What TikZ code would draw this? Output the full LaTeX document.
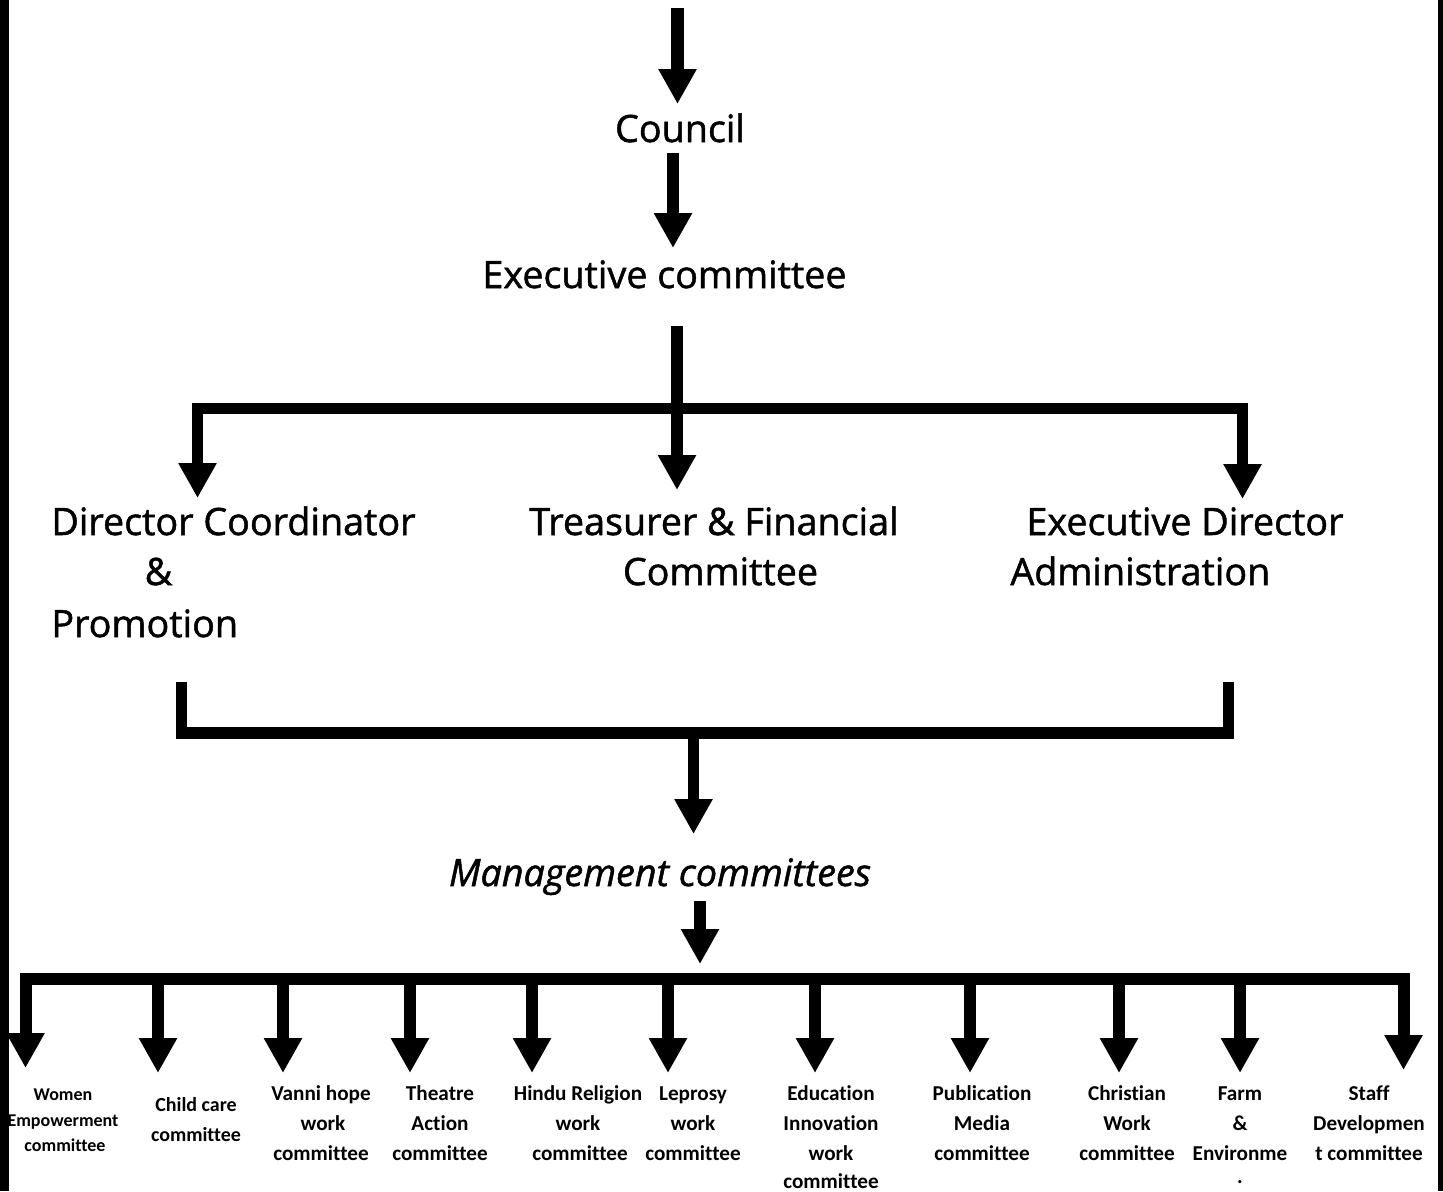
\documentclass[tikz,border=0pt]{standalone}
\usepackage{fontspec}
\setmainfont{Open Sans}[FakeBold=1.3]
\newfontfamily\calfont{Carlito}[Ligatures=NoCommon]
\usetikzlibrary{arrows.meta}
\begin{document}
\begin{tikzpicture}[x=0.5pt,y=-0.5pt,
  >={Triangle[length=17.5pt,width=18pt]},
  big/.style={font=\fontsize{18.85}{24}\selectfont, inner sep=0pt, anchor=base},
  bigl/.style={big, anchor=base west},
  bigi/.style={big, font=\fontsize{18.85}{24}\selectfont\itshape},
  lab/.style={font=\calfont\bfseries\fontsize{10.6}{14}\selectfont, inner sep=0pt, anchor=base},
  labw/.style={lab, font=\calfont\bfseries\fontsize{9}{12}\selectfont},
  labc/.style={lab, font=\calfont\bfseries\fontsize{10}{13}\selectfont},
  arr/.style={line width=6.25pt, ->},
  arrs/.style={line width=5.75pt, ->},
  bar/.style={line width=5.75pt, line join=miter, line cap=butt}
]
\useasboundingbox (0,0) rectangle (1443,1191);
\fill[white] (0,0) rectangle (1443,1191);

% ---------- top texts ----------
\node[big] (council) at (680,142) {Council};
\node[big] (exec) at (664.5,288) {Executive committee};

\node[bigl] (dc1) at (51,535) {Director Coordinator};
\node[big]  (dc2) at (158.5,585) {\&};
\node[bigl] (dc3) at (51,637) {Promotion};

\node[big] (tf1) at (714,535) {Treasurer \& Financial};
\node[big] (tf2) at (720.5,585) {Committee};

\node[bigl] (ed1) at (1026,535) {Executive Director};
\node[bigl] (ed2) at (1010,585) {Administration};

\node[bigi] (mgmt) at (660,886) {Management committees};

% ---------- connector coordinates ----------
\coordinate (a0) at (677.5,8);
\coordinate (a1) at (677.5,104);
\coordinate (b0) at (673,153);
\coordinate (b1) at (673,248);
\coordinate (c0) at (677,326);
\coordinate (c1) at (677,490);
\coordinate (jL) at (197.5,408.5);
\coordinate (jR) at (1242.5,408.5);
\coordinate (tL) at (197.5,498);
\coordinate (tR) at (1242.5,499);
\coordinate (kL0) at (181.5,682);
\coordinate (kL) at (181.5,733);
\coordinate (kR) at (1228.5,733);
\coordinate (kR0) at (1228.5,682);
\coordinate (m0) at (693.5,733);
\coordinate (m1) at (693.5,834);
\coordinate (n0) at (700,901);
\coordinate (n1) at (700,964);
\coordinate (bL) at (25.5,979);
\coordinate (bR) at (1403.5,979);
\coordinate (bLt) at (25.5,1068);
\coordinate (bRt) at (1403.5,1070);

% ---------- top arrows ----------
\draw[arr] (a0) -- (a1);
\draw[arr] (b0) -- (b1);
\draw[arrs] (c0) -- (c1);
\draw[bar, <->] (tL) -- (jL) -- (jR) -- (tR);

% ---------- lower bracket ----------
\draw[bar] (kL0) -- (kL) -- (kR) -- (kR0);
\draw[arrs] (m0) -- (m1);
\draw[line width=6pt, ->] (n0) -- (n1);

% ---------- bottom bar ----------
\draw[bar, line width=6pt, <->] (bLt) -- (bL) -- (bR) -- (bRt);
\foreach \x [count=\i] in {158,283,410,532,668,815,970,1119,1240}{
  \coordinate (s\i) at (\x,979);
  \coordinate (e\i) at (\x,1073);
  \draw[arrs] (s\i) -- (e\i);
}

% ---------- bottom labels ----------
\node[labw] (w1) at (63,1100) {Women};
\node[labw] (w2) at (63,1126) {Empowerment};
\node[labw] (w3) at (65,1151) {committee};

\node[labc] (cc1) at (196,1111) {Child care};
\node[labc] (cc2) at (196,1141) {committee};

\node[lab] (vh1) at (321,1100) {Vanni hope};
\node[lab] (vh2) at (323,1130) {work};
\node[lab] (vh3) at (321,1160) {committee};

\node[lab] (th1) at (440,1100) {Theatre};
\node[lab] (th2) at (440,1130) {Action};
\node[lab] (th3) at (440,1160) {committee};

\node[lab] (hr1) at (578,1100) {Hindu Religion};
\node[lab] (hr2) at (578,1130) {work};
\node[lab] (hr3) at (580,1160) {committee};

\node[lab] (lp1) at (693,1100) {Leprosy};
\node[lab] (lp2) at (693,1130) {work};
\node[lab] (lp3) at (693,1160) {committee};

\node[lab] (ed1b) at (831,1100) {Education};
\node[lab] (ed2b) at (831,1130) {Innovation};
\node[lab] (ed3b) at (831,1160) {work};
\node[lab] (ed4b) at (831,1188) {committee};

\node[lab] (pm1) at (982,1100) {Publication};
\node[lab] (pm2) at (982,1130) {Media};
\node[lab] (pm3) at (982,1160) {committee};

\node[lab] (cw1) at (1127,1100) {Christian};
\node[lab] (cw2) at (1127,1130) {Work};
\node[lab] (cw3) at (1127,1160) {committee};

\node[lab] (fe1) at (1240,1100) {Farm};
\node[lab] (fe2) at (1240,1130) {\&};
\node[lab] (fe3) at (1240,1160) {Environme};
\node[lab] (fe4) at (1240,1183) {.};

\node[lab] (sd1) at (1369,1100) {Staff};
\node[lab] (sd2) at (1369,1130) {Developmen};
\node[lab] (sd3) at (1369,1160) {t committee};

% ---------- side borders ----------
\fill[black] (0,0) rectangle (9,1191);
\fill[black] (1438,0) rectangle (1443,1191);
\end{tikzpicture}
\end{document}
